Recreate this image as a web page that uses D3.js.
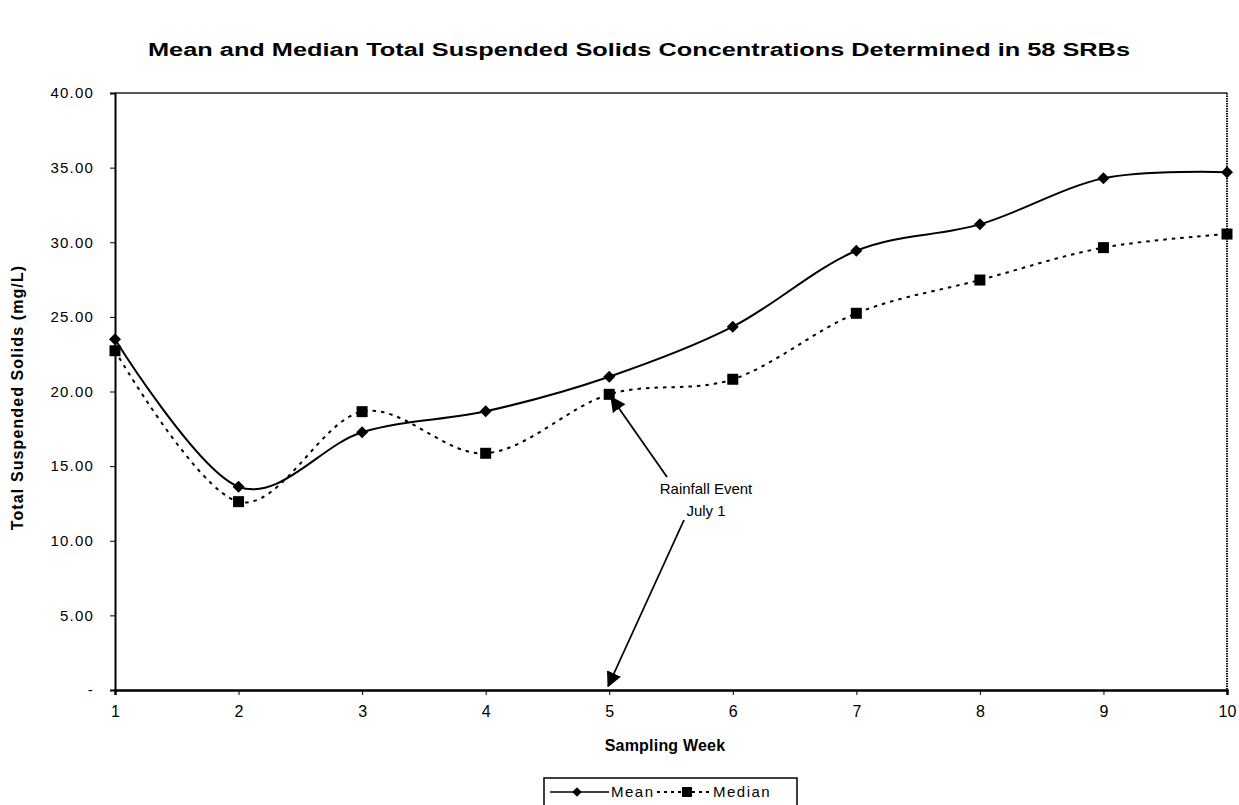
<!DOCTYPE html>
<html>
<head>
<meta charset="utf-8">
<script src="https://cdn.jsdelivr.net/npm/d3@7"></script>
<style>
  html, body { margin: 0; padding: 0; background: #fff; }
  svg { display: block; font-family: "Liberation Sans", Arial, sans-serif; }
</style>
</head>
<body>
<svg id="chart" width="1239" height="805"></svg>
<script>
// Sampling weeks and TSS concentrations (mg/L)
const weeks = [1, 2, 3, 4, 5, 6, 7, 8, 9, 10];
const meanTSS = [23.5, 13.62, 17.27, 18.67, 20.99, 24.34, 29.43, 31.2, 34.28, 34.69];
const medianTSS = [22.73, 12.62, 18.65, 15.86, 19.81, 20.82, 25.24, 27.47, 29.64, 30.55];
const yTicks = [0, 5, 10, 15, 20, 25, 30, 35, 40];
const seriesNames = ["Mean", "Median"];

const svg = d3.select("#chart");
const margin = { left: 115, right: 12, top: 93, bottom: 115 };
const W = 1239, H = 805;

const x = d3.scaleLinear().domain([1, 10]).range([margin.left, W - margin.right]);
const y = d3.scaleLinear().domain([0, 40]).range([H - margin.bottom, margin.top]);

// Title
svg.append("text")
  .attr("x", 639).attr("y", 56)
  .attr("text-anchor", "middle")
  .attr("font-weight", "bold")
  .attr("font-size", 18)
  .attr("textLength", 982)
  .attr("lengthAdjust", "spacingAndGlyphs")
  .text("Mean and Median Total Suspended Solids Concentrations Determined in 58 SRBs");

// Plot frame: dotted right edge, solid top
svg.append("line")
  .attr("x1", x(1)).attr("x2", x(10)).attr("y1", y(40)).attr("y2", y(40))
  .attr("stroke", "#222").attr("stroke-width", 1.6);
svg.append("line")
  .attr("x1", x(10)).attr("x2", x(10)).attr("y1", y(40)).attr("y2", y(0))
  .attr("stroke", "#111").attr("stroke-width", 2).attr("stroke-dasharray", "1.5,1");

// Y axis
const yAxis = d3.axisLeft(y)
  .tickValues(yTicks)
  .tickSize(5)
  .tickPadding(16)
  .tickFormat(d => d === 0 ? "-" : d3.format(".2f")(d));
const gy = svg.append("g").attr("transform", `translate(${x(1)},0)`).call(yAxis);
gy.select(".domain").attr("stroke", "#000").attr("stroke-width", 2);
gy.selectAll(".tick line").attr("stroke", "#000");
gy.selectAll(".tick text")
  .attr("font-family", "'Liberation Sans', Arial, sans-serif")
  .attr("font-size", 15)
  .attr("letter-spacing", 1.2)
  .attr("fill", "#000");

// X axis
const xAxis = d3.axisBottom(x)
  .tickValues(weeks)
  .tickSize(5)
  .tickPadding(11)
  .tickFormat(d3.format("d"));
const gx = svg.append("g").attr("transform", `translate(0,${y(0)})`).call(xAxis);
gx.select(".domain").attr("stroke", "#000").attr("stroke-width", 2.5);
gx.selectAll(".tick line").attr("stroke", "#000");
gx.selectAll(".tick text")
  .attr("font-family", "'Liberation Sans', Arial, sans-serif")
  .attr("font-size", 16)
  .attr("fill", "#000");

// Axis titles
svg.append("text")
  .attr("transform", `translate(23,${(y(0) + y(40)) / 2 + 6}) rotate(-90)`)
  .attr("text-anchor", "middle")
  .attr("font-weight", "bold")
  .attr("font-size", 16)
  .attr("letter-spacing", 1.1)
  .text("Total Suspended Solids (mg/L)");

svg.append("text")
  .attr("x", 665).attr("y", 751)
  .attr("text-anchor", "middle")
  .attr("font-weight", "bold")
  .attr("font-size", 16)
  .attr("letter-spacing", 0.2)
  .text("Sampling Week");

// Smoothed series lines
const curve = d3.curveCatmullRom.alpha(0);
const line = d3.line().x((d, i) => x(weeks[i])).y(d => y(d)).curve(curve);

svg.append("path")
  .datum(meanTSS)
  .attr("d", line)
  .attr("fill", "none").attr("stroke", "#000").attr("stroke-width", 2);

svg.append("path")
  .datum(medianTSS)
  .attr("d", line)
  .attr("fill", "none").attr("stroke", "#000").attr("stroke-width", 2)
  .attr("stroke-dasharray", "3.5,5");

// Markers
const diamondPath = "M0,-6L6,0L0,6L-6,0Z";
svg.append("g").selectAll("path")
  .data(meanTSS)
  .join("path")
  .attr("d", diamondPath)
  .attr("transform", (d, i) => `translate(${x(weeks[i])},${y(d)})`)
  .attr("fill", "#000");

svg.append("g").selectAll("rect")
  .data(medianTSS)
  .join("rect")
  .attr("x", (d, i) => x(weeks[i]) - 5.5)
  .attr("y", d => y(d) - 5.5)
  .attr("width", 11).attr("height", 11)
  .attr("fill", "#000");

// Rainfall annotation
const defs = svg.append("defs");
defs.append("marker")
  .attr("id", "arrowhead")
  .attr("viewBox", "0 0 10 10")
  .attr("refX", 9).attr("refY", 5)
  .attr("markerWidth", 8.5).attr("markerHeight", 8.5)
  .attr("markerUnits", "strokeWidth")
  .attr("orient", "auto")
  .append("path")
  .attr("d", "M0,0 L10,5 L0,10 z")
  .attr("fill", "#000");

const rainWeek = 5;
svg.append("line")
  .attr("x1", 667).attr("y1", 477)
  .attr("x2", x(rainWeek) + 2).attr("y2", y(medianTSS[4]) + 3)
  .attr("stroke", "#000").attr("stroke-width", 1.8)
  .attr("marker-end", "url(#arrowhead)");
svg.append("line")
  .attr("x1", 684).attr("y1", 520)
  .attr("x2", x(rainWeek) - 1).attr("y2", y(0) - 4)
  .attr("stroke", "#000").attr("stroke-width", 1.8)
  .attr("marker-end", "url(#arrowhead)");

svg.append("text")
  .attr("x", 706).attr("y", 494)
  .attr("text-anchor", "middle")
  .attr("font-size", 15)
  .text("Rainfall Event");
svg.append("text")
  .attr("x", 706).attr("y", 516)
  .attr("text-anchor", "middle")
  .attr("font-size", 15)
  .text("July 1");

// Legend
const lg = svg.append("g");
lg.append("rect")
  .attr("x", 544).attr("y", 778).attr("width", 253).attr("height", 40)
  .attr("fill", "#fff").attr("stroke", "#000").attr("stroke-width", 1.5);
lg.append("line")
  .attr("x1", 550).attr("x2", 609).attr("y1", 792).attr("y2", 792)
  .attr("stroke", "#000").attr("stroke-width", 1.5);
lg.append("path")
  .attr("d", diamondPath)
  .attr("transform", "translate(577,792) scale(0.8)")
  .attr("fill", "#000");
lg.append("text")
  .attr("x", 611).attr("y", 797)
  .attr("font-size", 15)
  .attr("letter-spacing", 1.5)
  .text(seriesNames[0]);
lg.append("line")
  .attr("x1", 657).attr("x2", 712).attr("y1", 792).attr("y2", 792)
  .attr("stroke", "#000").attr("stroke-width", 1.8).attr("stroke-dasharray", "3,4");
lg.append("rect")
  .attr("x", 682).attr("y", 787).attr("width", 10).attr("height", 10)
  .attr("fill", "#000");
lg.append("text")
  .attr("x", 713).attr("y", 797)
  .attr("font-size", 15)
  .attr("letter-spacing", 1.5)
  .text(seriesNames[1]);
</script>
</body>
</html>
